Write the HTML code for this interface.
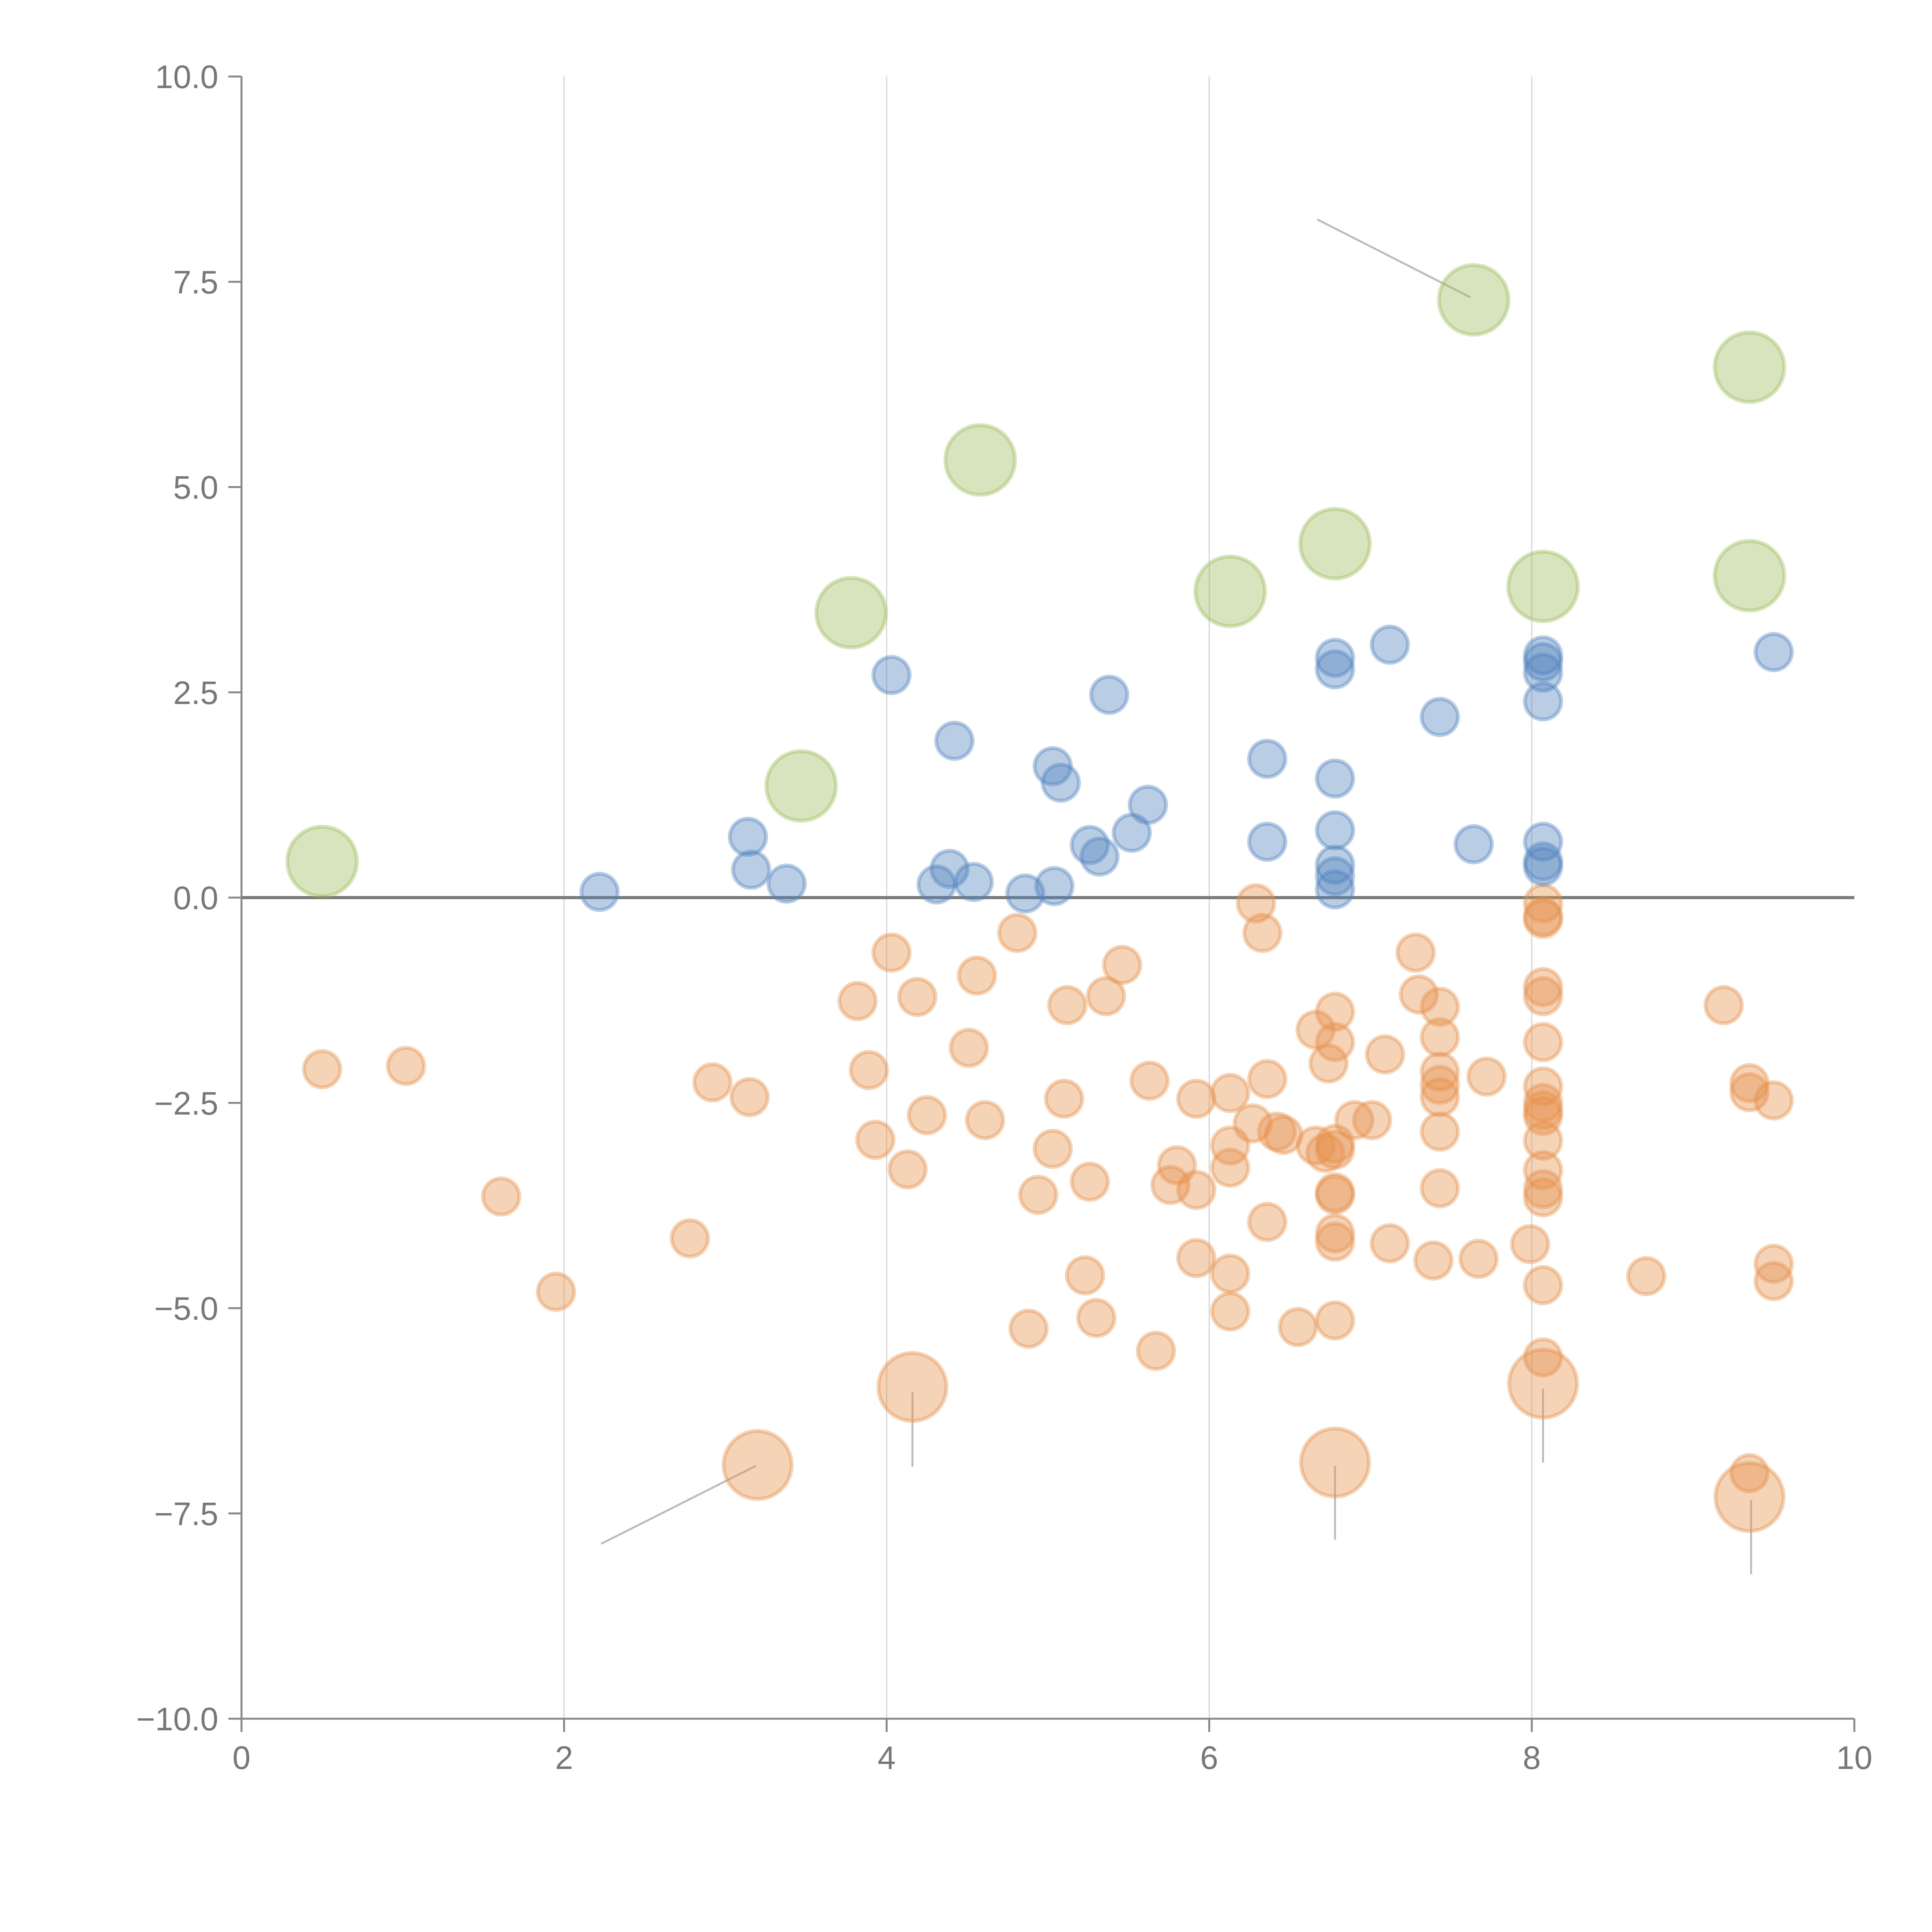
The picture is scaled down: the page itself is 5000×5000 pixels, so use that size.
<!DOCTYPE html>
<html><head><meta charset="utf-8">
<style>html,body{margin:0;padding:0;background:#fff;}svg{display:block;}</style>
</head><body>
<svg id="chart" xmlns="http://www.w3.org/2000/svg" width="5000" height="5000" viewBox="0 0 5000 5000">
<g id="grid"></g>
<g id="ann"></g>
<g id="marks"></g>
<g id="axes"></g>
</svg>
<script>
const xTicks=[0,2,4,6,8,10];
const yTicks=[10,7.5,5,2.5,0,-2.5,-5,-7.5,-10];
const blueX=[2.22,3.14,3.16,3.38,4.03,4.31,4.39,4.42,4.54,4.86,5.03,5.04,5.08,5.26,5.32,5.38,5.52,5.62,6.36,6.36,6.78,6.78,6.78,6.78,6.78,6.78,6.78,7.12,7.43,7.64,8.07,8.07,8.07,8.07,8.07,8.07,8.07,9.50];
const blueY=[0.07,0.74,0.34,0.17,2.71,0.16,0.35,1.91,0.19,0.05,1.60,0.14,1.40,0.64,0.50,2.47,0.79,1.13,1.69,0.68,2.92,2.78,1.45,0.82,0.40,0.26,0.10,3.08,2.20,0.65,2.95,2.87,2.74,2.39,0.68,0.44,0.38,2.99];
const greenX=[0.50,3.47,3.78,4.58,6.13,6.78,7.64,8.07,9.35,9.35];
const greenY=[0.44,1.36,3.47,5.33,3.73,4.31,7.28,3.79,6.46,3.92];
const orangeBigX=[3.20,4.16,6.78,8.07,9.35];
const orangeBigY=[-6.91,-5.96,-6.88,-5.92,-7.30];
const orangeX=[0.50,1.02,1.61,1.95,2.78,2.92,3.15,3.82,3.89,3.93,4.03,4.13,4.19,4.25,4.51,4.56,4.61,4.81,4.88,4.94,5.03,5.10,5.12,5.23,5.26,5.30,5.36,5.46,5.63,5.67,5.76,5.80,5.92,5.92,5.92,6.13,6.13,6.13,6.13,6.13,6.27,6.29,6.33,6.36,6.36,6.42,6.46,6.55,6.66,6.66,6.72,6.74,6.78,6.78,6.78,6.78,6.78,6.78,6.78,6.78,6.78,6.90,7.01,7.09,7.12,7.28,7.30,7.39,7.43,7.43,7.43,7.43,7.43,7.43,7.43,7.67,7.72,7.99,8.07,8.07,8.07,8.07,8.07,8.07,8.07,8.07,8.07,8.07,8.07,8.07,8.07,8.07,8.07,8.07,8.71,9.19,9.35,9.35,9.35,9.50,9.50,9.50];
const orangeY=[-2.09,-2.05,-3.64,-4.80,-4.15,-2.25,-2.43,-1.26,-2.10,-2.95,-0.67,-3.31,-1.21,-2.65,-1.83,-0.95,-2.71,-0.43,-5.25,-3.62,-3.06,-2.45,-1.31,-4.60,-3.46,-5.12,-1.20,-0.82,-2.23,-5.52,-3.50,-3.26,-4.39,-3.56,-2.45,-2.38,-3.02,-3.29,-4.58,-5.04,-2.75,-0.07,-0.43,-2.21,-3.95,-2.85,-2.89,-5.23,-1.61,-3.02,-3.11,-2.02,-1.39,-1.76,-3.00,-3.07,-3.59,-3.62,-4.09,-4.19,-5.15,-2.71,-2.71,-1.91,-4.21,-0.67,-1.18,-4.42,-1.33,-1.70,-2.12,-2.28,-2.43,-2.85,-3.54,-4.40,-2.18,-4.22,-0.07,-0.23,-0.26,-1.09,-1.20,-1.76,-2.30,-2.50,-2.59,-2.66,-2.96,-3.32,-3.55,-3.65,-4.72,-5.60,-4.61,-1.31,-2.26,-2.37,-7.01,-2.47,-4.46,-4.67];
const annX1=[2.23,4.16,6.78,8.07,9.36,6.67];
const annY1=[-7.87,-6.02,-6.92,-5.98,-7.34,8.26];
const annX2=[3.19,4.16,6.78,8.07,9.36,7.62];
const annY2=[-6.92,-6.93,-7.82,-6.88,-8.24,7.31];

const L=625,R=4799,T=198,B=4448;
const sx=v=>L+(v-0)/(10-0)*(R-L);
const sy=v=>B-(v+10)/20*(B-T);
const NS="http://www.w3.org/2000/svg";
function mk(tag,parent,attrs){const e=document.createElementNS(NS,tag);for(const k in attrs)e.setAttribute(k,attrs[k]);parent.appendChild(e);return e;}
const grid=document.getElementById('grid'),ann=document.getElementById('ann'),marks=document.getElementById('marks'),axes=document.getElementById('axes');

xTicks.forEach(t=>{if(t>0&&t<10){const g=mk('line',grid,{x1:sx(t),x2:sx(t),y1:T,y2:B,stroke:'#d6d6d6','stroke-width':3});

}});
const zl=mk('line',grid,{x1:L,x2:R,y1:sy(0),y2:sy(0),stroke:'#7a7a7a','stroke-width':8});



for(let i=0;i<annX1.length;i++){const a=mk('line',ann,{x1:sx(annX1[i]),y1:sy(annY1[i]),x2:sx(annX2[i]),y2:sy(annY2[i]),stroke:'#bbbbbb','stroke-width':5});

}

function series(xs,ys,r,col,name){for(let i=0;i<xs.length;i++){const c=mk('circle',marks,{cx:sx(xs[i]),cy:sy(ys[i]),r:r,fill:col,'fill-opacity':0.4,stroke:col,'stroke-opacity':0.4,'stroke-width':10});

}}
series(orangeX,orangeY,47,'#e6904a','orange-point');
series(orangeBigX,orangeBigY,88,'#e6904a','orange-big-point');
series(blueX,blueY,47,'#4f81bd','blue-point');
series(greenX,greenY,90,'#9bbb59','green-point');

const ya=mk('line',axes,{x1:L,x2:L,y1:T,y2:B,stroke:'#888','stroke-width':5});


const xa=mk('line',axes,{x1:L,x2:R,y1:B,y2:B,stroke:'#888','stroke-width':5});


yTicks.forEach(t=>{const y=sy(t);
const tk=mk('line',axes,{x1:L-34,x2:L,y1:y,y2:y,stroke:'#888','stroke-width':5});


const tx=mk('text',axes,{x:L-60,y:y+30,'text-anchor':'end','font-family':'Liberation Sans, sans-serif','font-size':84,fill:'#777'});
tx.textContent=(t<0?'\u2212':'')+Math.abs(t).toFixed(1);

});
xTicks.forEach(t=>{const x=sx(t);
const tk=mk('line',axes,{x1:x,x2:x,y1:B,y2:B+34,stroke:'#888','stroke-width':5});


const tx=mk('text',axes,{x:x,y:B+130,'text-anchor':'middle','font-family':'Liberation Sans, sans-serif','font-size':84,fill:'#777'});
tx.textContent=String(t);

});
</script>
</body></html>
